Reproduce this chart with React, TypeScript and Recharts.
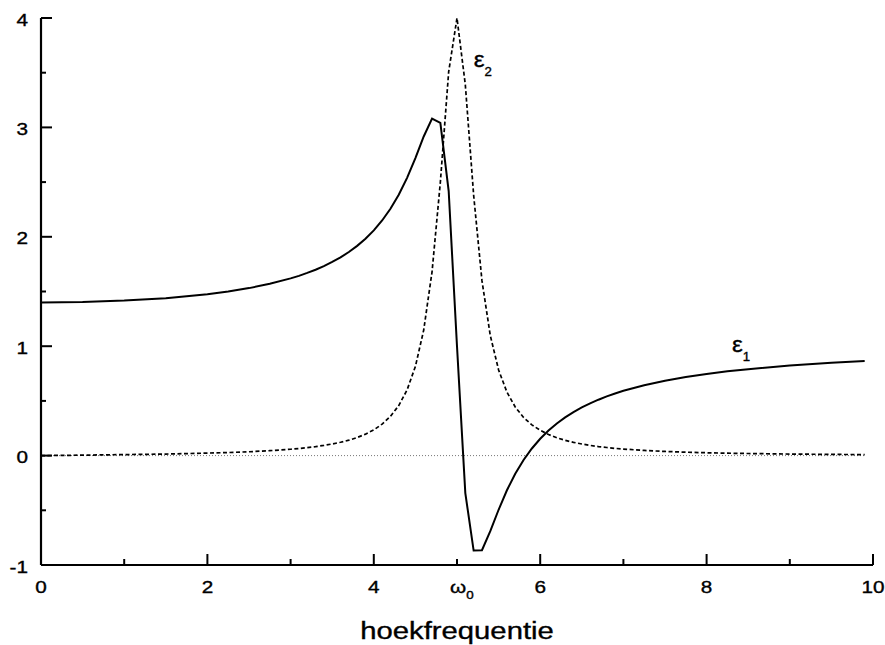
import React from 'react';
import { LineChart, Line, XAxis, YAxis, ReferenceLine, ReferenceDot, Label } from 'recharts';

// angular frequency samples
const omega = [0, 0.5, 1, 1.5, 2, 2.25, 2.5, 2.75, 3, 3.1, 3.2, 3.3, 3.4, 3.5, 3.6, 3.7, 3.8, 3.9, 4, 4.1, 4.2, 4.3, 4.4, 4.5, 4.6, 4.7, 4.8, 4.9, 5, 5.1, 5.2, 5.3, 5.4, 5.5, 5.6, 5.7, 5.8, 5.9, 6, 6.1, 6.2, 6.3, 6.4, 6.5, 6.6, 6.7, 6.8, 6.9, 7, 7.25, 7.5, 7.75, 8, 8.25, 8.5, 9, 9.5, 9.9];
// real part eps1 (solid)
const eps1 = [1.4, 1.404, 1.417, 1.439, 1.475, 1.5, 1.531, 1.57, 1.62, 1.643, 1.67, 1.699, 1.732, 1.77, 1.812, 1.861, 1.917, 1.982, 2.059, 2.149, 2.256, 2.385, 2.539, 2.72, 2.917, 3.08, 3.041, 2.418, 1.0, -0.343, -0.868, -0.865, -0.691, -0.495, -0.317, -0.166, -0.04, 0.065, 0.154, 0.229, 0.294, 0.349, 0.398, 0.44, 0.478, 0.511, 0.541, 0.568, 0.592, 0.643, 0.685, 0.718, 0.746, 0.77, 0.79, 0.823, 0.848, 0.864];
// imaginary part eps2 (dashed)
const eps2 = [0, 0.004, 0.009, 0.014, 0.023, 0.028, 0.035, 0.045, 0.058, 0.065, 0.073, 0.082, 0.093, 0.106, 0.122, 0.141, 0.165, 0.196, 0.235, 0.288, 0.359, 0.457, 0.6, 0.815, 1.148, 1.68, 2.5, 3.509, 4.0, 3.39, 2.381, 1.599, 1.098, 0.783, 0.58, 0.444, 0.349, 0.281, 0.231, 0.193, 0.163, 0.14, 0.121, 0.106, 0.093, 0.082, 0.074, 0.066, 0.06, 0.047, 0.038, 0.031, 0.026, 0.022, 0.019, 0.014, 0.011, 0.009];

const xTicks = [0, 1, 2, 3, 4, 5, 6, 7, 8, 9, 10];
const xTickLabels: Record<number, string> = { 0: '0', 2: '2', 4: '4', 6: '6', 8: '8', 10: '10' };
const yTicks = [-1, -0.5, 0, 0.5, 1, 1.5, 2, 2.5, 3, 3.5, 4];
const yTickLabels: Record<string, string> = { '-1': '-1', '0': '0', '1': '1', '2': '2', '3': '3', '4': '4' };
const omegaTick = 5;
const xTitle = 'hoekfrequentie';
const eps1Label = { x: 8.305, y: 0.947, sub: '1' };
const eps2Label = { x: 5.2, y: 3.552, sub: '2' };

const data = omega.map((w, i) => ({ w, e1: eps1[i], e2: eps2[i] }));

const FONT = '"Liberation Sans", Arial, Helvetica, sans-serif';
const SX = 1.22;
const TXT = { fontFamily: FONT, fill: '#000', stroke: '#000', strokeWidth: 0.35 };

const XTick = (props: any) => {
  const { x, y, payload } = props;
  const v = payload.value;
  const major = v % 2 === 0;
  const len = major ? 11 : 6;
  const lbl = xTickLabels[v];
  return (
    <g>
      <line x1={x} x2={x} y1={y} y2={y - len} stroke="#000" strokeWidth={2} />
      {lbl !== undefined && (
        <text transform={`translate(${x},${y + 28}) scale(${SX},1)`} textAnchor="middle" fontSize={17} {...TXT}>
          {lbl}
        </text>
      )}
      {v === omegaTick && (
        <text transform={`translate(${x - 7},${y + 28}) scale(${SX},1)`} textAnchor="start" fontSize={17} {...TXT}>
          ω<tspan dy={6} fontSize={11}>0</tspan>
        </text>
      )}
    </g>
  );
};

const YTick = (props: any) => {
  const { x, y, payload } = props;
  const v = payload.value;
  const major = Number.isInteger(v);
  const len = major ? 11 : 5;
  const lbl = yTickLabels[String(v)];
  return (
    <g>
      <line x1={x} x2={x + len} y1={y} y2={y} stroke="#000" strokeWidth={2} />
      {lbl !== undefined && (
        <text transform={`translate(${x - 13},${y + 7.5}) scale(${SX},1)`} textAnchor="end" fontSize={17} {...TXT}>
          {lbl}
        </text>
      )}
    </g>
  );
};

const epsContent = (sub: string) => (p: any) => {
  const vb = p.viewBox || {};
  const cx = (vb.x ?? 0) + (vb.width ?? 0) / 2;
  const cy = (vb.y ?? 0) + (vb.height ?? 0) / 2;
  return (
    <text transform={`translate(${cx},${cy}) scale(1.1,1)`} textAnchor="start" fontSize={22} {...TXT}>
      ε<tspan dy={9} fontSize={12}>{sub}</tspan>
    </text>
  );
};

const xTitleContent = (p: any) => {
  const vb = p.viewBox || {};
  const cx = vb.x + vb.width / 2;
  const y = vb.y + 74;
  return (
    <text transform={`translate(${cx},${y}) scale(${SX},1)`} textAnchor="middle" fontSize={24} {...TXT}>
      {xTitle}
    </text>
  );
};

export default function App() {
  return (
    <div style={{ position: 'absolute', left: 0, top: 0, width: 885, height: 645, background: '#fff' }}>
      <LineChart width={885} height={645} data={data} margin={{ top: 18, right: 12, left: 0, bottom: 0 }}>
        <XAxis
          dataKey="w"
          type="number"
          domain={[0, 10]}
          ticks={xTicks}
          interval={0}
          height={80}
          tickSize={0}
          tickMargin={0}
          tickLine={false}
          axisLine={{ stroke: '#000', strokeWidth: 2.2 }}
          tick={<XTick />}
        >
          <Label content={xTitleContent} />
        </XAxis>
        <YAxis
          type="number"
          domain={[-1, 4]}
          ticks={yTicks}
          interval={0}
          width={41}
          tickSize={0}
          tickMargin={0}
          tickLine={false}
          axisLine={{ stroke: '#000', strokeWidth: 2.2 }}
          tick={<YTick />}
        />
        <ReferenceLine
          segment={[{ x: 0, y: 0 }, { x: 9.9, y: 0 }]}
          stroke="#777"
          strokeWidth={1}
          strokeDasharray="1 2"
        />
        <Line
          type="linear"
          dataKey="e2"
          stroke="#000"
          strokeWidth={1.7}
          strokeDasharray="4 2.5"
          dot={false}
          isAnimationActive={false}
        />
        <Line
          type="linear"
          dataKey="e1"
          stroke="#000"
          strokeWidth={2}
          dot={false}
          isAnimationActive={false}
        />
        <ReferenceDot x={eps2Label.x} y={eps2Label.y} r={1} fill="none" stroke="none" label={epsContent(eps2Label.sub)} />
        <ReferenceDot x={eps1Label.x} y={eps1Label.y} r={1} fill="none" stroke="none" label={epsContent(eps1Label.sub)} />
      </LineChart>
    </div>
  );
}
